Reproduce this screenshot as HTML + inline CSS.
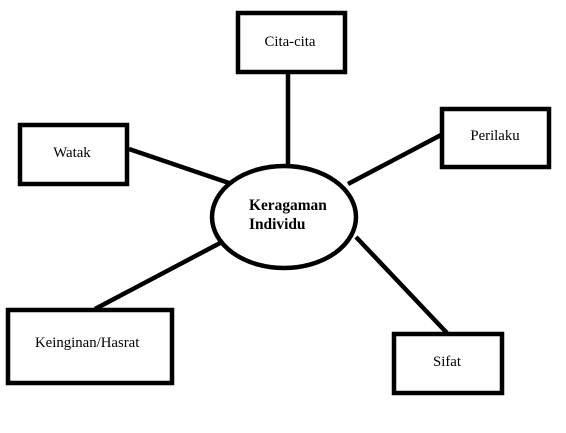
<!DOCTYPE html>
<html><head><style>
html,body{margin:0;padding:0;background:#fff;}
svg{display:block;}
text{font-family:"Liberation Serif",serif;font-size:14.8px;fill:#000;}
</style></head><body>
<svg width="566" height="433" viewBox="0 0 566 433">
<g stroke="#000" stroke-width="4.5" fill="none">
<line x1="288" y1="73" x2="288" y2="166"/>
<line x1="129" y1="149" x2="229" y2="183"/>
<line x1="441" y1="135" x2="348" y2="184"/>
<line x1="222" y1="242" x2="95" y2="309"/>
<line x1="356" y1="237" x2="447" y2="333"/>
<rect x="238" y="13" width="107" height="59" fill="#fff"/>
<rect x="20" y="125" width="107" height="59" fill="#fff"/>
<rect x="442" y="109" width="107" height="58" fill="#fff"/>
<rect x="8" y="310" width="164" height="73" fill="#fff"/>
<rect x="394" y="334" width="108" height="59" fill="#fff"/>
<ellipse cx="284" cy="217" rx="72" ry="51" fill="#fff"/>
</g>
<text x="290" y="46" text-anchor="middle">Cita-cita</text>
<text x="72" y="157" text-anchor="middle">Watak</text>
<text x="495" y="140" text-anchor="middle">Perilaku</text>
<text x="35" y="347">Keinginan/Hasrat</text>
<text x="447" y="366" text-anchor="middle">Sifat</text>
<text x="249" y="210" font-weight="bold" style="font-size:15.4px">Keragaman</text>
<text x="249" y="229" font-weight="bold" style="font-size:15.4px">Individu</text>
</svg>
</body></html>
